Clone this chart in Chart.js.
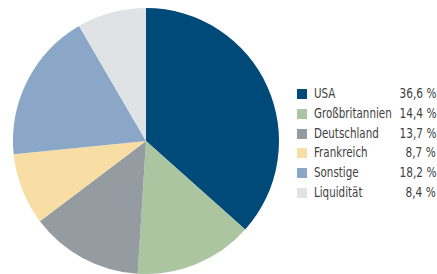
<!DOCTYPE html>
<html>
<head>
<meta charset="utf-8">
<script src="https://cdn.jsdelivr.net/npm/chart.js@4/dist/chart.umd.min.js"></script>
<style>
  html, body { margin: 0; padding: 0; background: #fff; }
  #wrap { position: relative; width: 437px; height: 274px; overflow: hidden; }
  #chartBox { position: absolute; left: 0; top: 0; width: 292px; height: 274px; }
  #legend { position: absolute; left: 297px; top: 84px; width: 140px;
            font-family: "DejaVu Sans Condensed", "Liberation Sans", sans-serif;
            font-size: 13.5px; color: #404040; }
  .row { position: relative; height: 19.8px; line-height: 19.8px; }
  .sw { position: absolute; left: 0; top: 5px; width: 10px; height: 10px; }
  .lab { position: absolute; left: 17px; top: 0; white-space: nowrap; transform: scaleX(0.85); transform-origin: left center; }
  .val { position: absolute; right: 1px; top: 0; white-space: nowrap; transform: scaleX(0.87); transform-origin: right center; }
</style>
</head>
<body>
<div id="wrap">
  <div id="chartBox"><canvas id="c"></canvas></div>
  <div id="legend"></div>
</div>
<script>
const categories = ["USA", "Großbritannien", "Deutschland", "Frankreich", "Sonstige", "Liquidität"];
const values = [36.6, 14.4, 13.7, 8.7, 18.2, 8.4];
const valueLabels = ["36,6 %", "14,4 %", "13,7 %", "8,7 %", "18,2 %", "8,4 %"];
const colors = ["#004a7a", "#abc5a1", "#949ba1", "#f8dea4", "#8aa7c7", "#e0e3e6"];

new Chart(document.getElementById('c'), {
  type: 'pie',
  data: {
    labels: categories,
    datasets: [{ data: values, backgroundColor: colors, borderWidth: 0 }]
  },
  options: {
    responsive: true,
    maintainAspectRatio: false,
    animation: false,
    layout: { padding: { top: 8, bottom: 0, left: 0, right: 0 } },
    plugins: { legend: { display: false }, tooltip: { enabled: false } }
  }
});

const leg = document.getElementById('legend');
categories.forEach((cat, i) => {
  const row = document.createElement('div');
  row.className = 'row';
  row.innerHTML = '<span class="sw" style="background:' + colors[i] + '"></span>' +
    '<span class="lab">' + cat + '</span><span class="val">' + valueLabels[i] + '</span>';
  leg.appendChild(row);
});
</script>
</body>
</html>
